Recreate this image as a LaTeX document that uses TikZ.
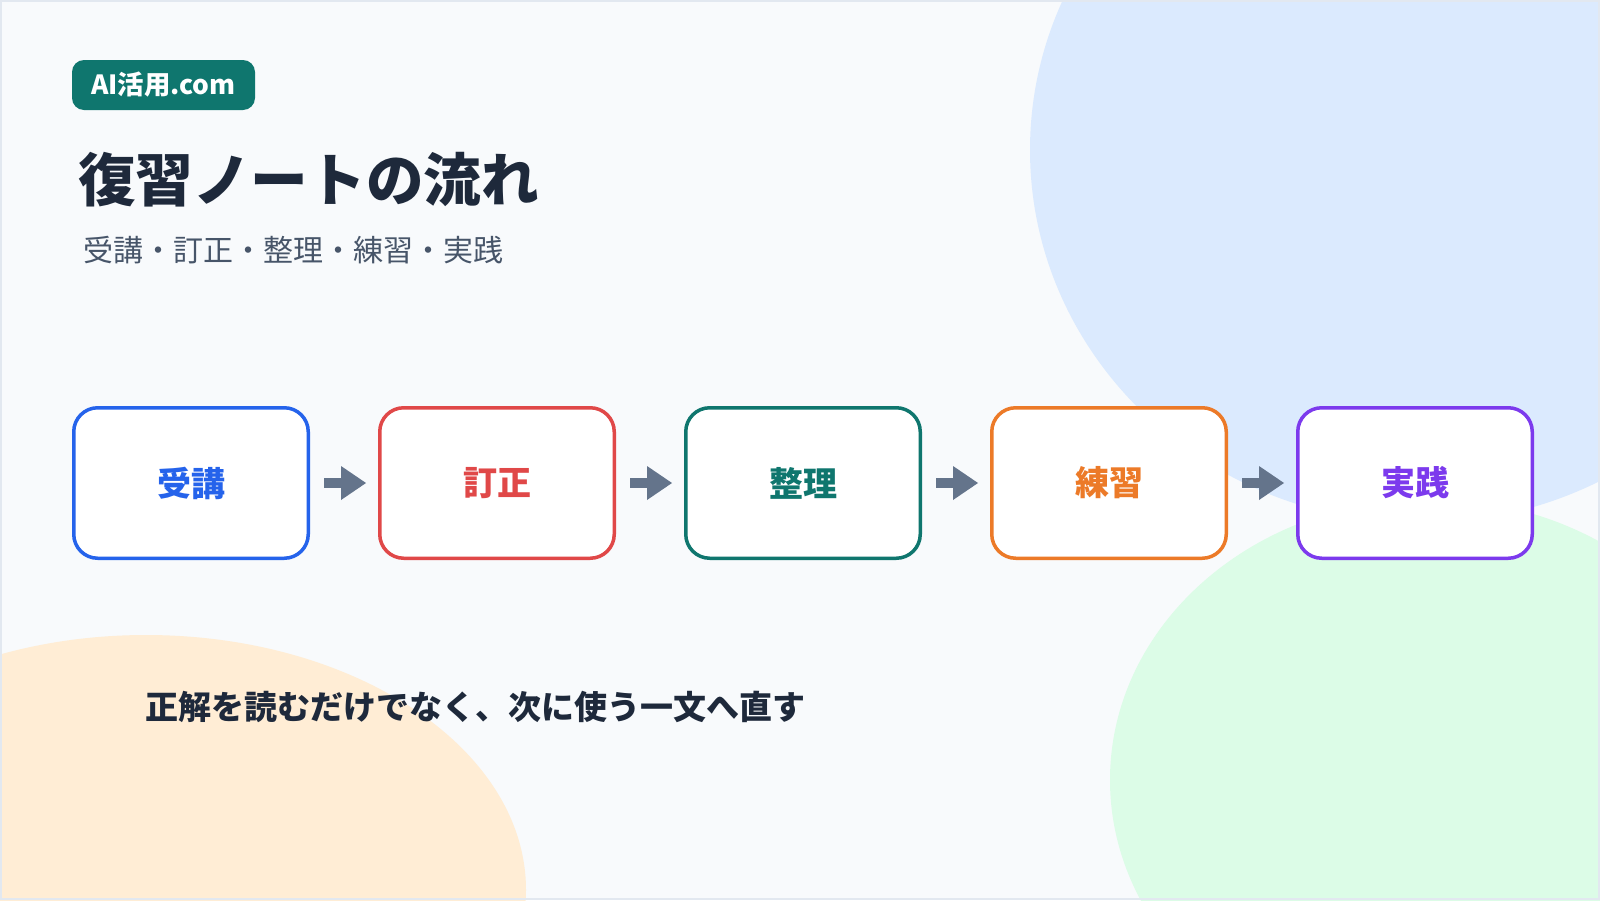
\documentclass[tikz,border=0pt]{standalone}
\usepackage{fontspec}
\setmainfont{Noto Sans CJK JP}
\usetikzlibrary{arrows.meta}
\definecolor{pagebg}{HTML}{F8FAFC}
\definecolor{frameline}{HTML}{E2E8F0}
\definecolor{blobblue}{HTML}{DBEAFE}
\definecolor{blobgreen}{HTML}{DCFCE7}
\definecolor{bloborange}{HTML}{FFEDD5}
\definecolor{badgeteal}{HTML}{0F766E}
\definecolor{ink}{HTML}{1E293B}
\definecolor{subink}{HTML}{475569}
\definecolor{arrowgray}{HTML}{64748B}
\definecolor{cblue}{HTML}{2563EB}
\definecolor{cred}{HTML}{E04848}
\definecolor{cteal}{HTML}{0F766E}
\definecolor{corange}{HTML}{EC7A28}
\definecolor{cpurple}{HTML}{7C3AED}
\newcommand {\blob}[5] {\fill[#1] (#2,#3) ellipse [x radius=#4, y radius=#5];}
\newcommand {\flowbox}[4] {\node[flowbox, draw=#3, text=#3] (#1) at (#2,483) {#4};}
\newcommand {\flowarrow}[2] {\draw[flowarrow] (#1) -- (#2);}

\begin{document}
\begin{tikzpicture}[x=0.5pt, y=-0.5pt,
    flowbox/.style={rectangle, fill=white, line width=1.75pt, rounded corners=12pt,
                    minimum width=117.25pt, minimum height=75.25pt, inner sep=0pt,
                    font=\bfseries\fontsize{17}{20}\selectfont},
    flowarrow/.style={arrowgray, line width=5pt, shorten <=7pt, shorten >=6pt,
                      -{Triangle[length=12.5pt, width=17pt, line width=0pt]}}]
        \useasboundingbox (0,0) rectangle (1600,900);
        \fill[pagebg] (0,0) rectangle (1600,900);
        \begin{scope}
            \clip (0,0) rectangle (1600,900);
            \blob{blobblue}{1420}{150}{390}{373};
            \blob{blobgreen}{1430}{780}{320}{281};
            \blob{bloborange}{146}{890}{380}{255};
        \end{scope}
        \draw[frameline, line width=1pt] (1,1) rectangle (1599,899);
        % header
        \node[fill=badgeteal, text=white, rounded corners=6pt, inner sep=0pt,
              minimum width=91.5pt, minimum height=25pt,
              font=\bfseries\fontsize{13.2}{15}\selectfont] (badge) at (163.5,85) {AI活用.com};
        \node[anchor=west, text=ink, font=\bfseries\fontsize{28.8}{32}\selectfont] (title) at (71,180) {復習ノートの流れ};
        \node[anchor=west, text=subink, font=\fontsize{15}{18}\selectfont] (subtitle) at (76,250) {受講・訂正・整理・練習・実践};
        % flow
        \flowbox{lecture}{191}{cblue}{受講};
        \flowbox{correct}{497}{cred}{訂正};
        \flowbox{organize}{803}{cteal}{整理};
        \flowbox{practice}{1109}{corange}{練習};
        \flowbox{apply}{1415}{cpurple}{実践};
        \flowarrow{lecture.east}{correct.west};
        \flowarrow{correct.east}{organize.west};
        \flowarrow{organize.east}{practice.west};
        \flowarrow{practice.east}{apply.west};
        % note
        \node[anchor=west, text=ink, font=\bfseries\fontsize{16.5}{20}\selectfont] (note) at (138,707) {正解を読むだけでなく、次に使う一文へ直す};
    \end{tikzpicture}
\end{document}
